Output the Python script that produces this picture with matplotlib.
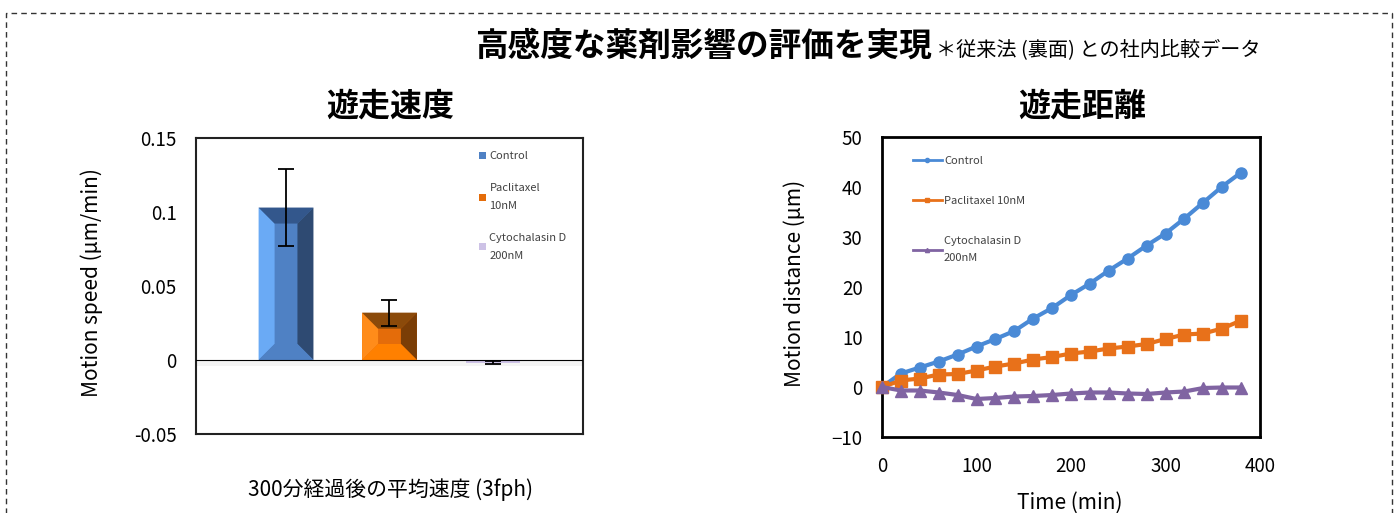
import matplotlib
matplotlib.use('Agg')
import matplotlib.pyplot as plt
from matplotlib.patches import Polygon, Rectangle
from matplotlib.lines import Line2D

plt.rcParams['font.family'] = ['Noto Sans CJK JP', 'DejaVu Sans']

# --- データ ---
bar_labels = ['Control', 'Paclitaxel\n10nM', 'Cytochalasin D\n200nM']
bar_values = [0.103, 0.032, -0.002]
bar_errors = [0.026, 0.0087, 0.001]

time_min = [0, 20, 40, 60, 80, 100, 120, 140, 160, 180, 200,
            220, 240, 260, 280, 300, 320, 340, 360, 380]
control = [0, 2.7, 3.9, 5.1, 6.5, 8.1, 9.6, 11.2, 13.7, 15.8, 18.4,
           20.7, 23.3, 25.7, 28.3, 30.7, 33.7, 36.9, 40.1, 42.9]
paclitaxel = [0, 1.3, 1.7, 2.5, 2.6, 3.3, 4.1, 4.7, 5.5, 6.0, 6.7,
              7.1, 7.7, 8.1, 8.6, 9.6, 10.5, 10.7, 11.7, 13.3]
cytochalasin = [0, -0.7, -0.7, -1.1, -1.6, -2.4, -2.2, -1.9, -1.8, -1.6, -1.3,
                -1.1, -1.1, -1.3, -1.4, -1.1, -0.9, -0.2, -0.1, -0.1]
line_labels = ['Control', 'Paclitaxel 10nM', 'Cytochalasin D\n200nM']

W, H = 1400, 513
fig = plt.figure(figsize=(W / 100, H / 100), dpi=100)

def fx(px):
    return px / W

def fy(py):
    return 1 - py / H

# 点線の枠
fig.patches.append(Rectangle((fx(6), fy(530)), fx(1392) - fx(6), fy(13) - fy(530),
                             transform=fig.transFigure, fill=False, ec='#333333',
                             lw=1, ls=(0, (4, 3))))

# タイトル
fig.text(fx(932), fy(56), '高感度な薬剤影響の評価を実現', ha='right', va='baseline',
         fontsize=23.5, fontweight='bold')
fig.text(fx(936), fy(55), '＊従来法 (裏面) との社内比較データ', ha='left', va='baseline',
         fontsize=14.5)
fig.text(fx(390), fy(107), '遊走速度', ha='center', va='center', fontsize=23, fontweight='bold')
fig.text(fx(1082), fy(107), '遊走距離', ha='center', va='center', fontsize=23, fontweight='bold')

# ---------- 棒グラフ ----------
ax1 = fig.add_axes([fx(196), fy(434), fx(583) - fx(196), fy(138) - fy(434)])
ax1.set_xlim(-0.87, 2.87)
ax1.set_ylim(-0.05, 0.15)
ax1.axhspan(-0.004, 0, color='#f4f4f4', lw=0, zorder=0)

face = ['#4f81c4', '#e46c0a', '#cdc2e6']
bevel = [
    # left, top, right, bottom
    ['#6aaaf5', '#33578c', '#2e4a72', '#4f81c4'],
    ['#ff8c1a', '#8b4a0a', '#7a3d06', '#ff8000'],
    None,
]
bars = ax1.bar(range(3), bar_values, width=0.53, color=face, zorder=2)
fig.canvas.draw()
inv = ax1.transData.inverted()
b = 16  # px
for rect, cols in zip(bars, bevel):
    if cols is None:
        continue
    x0, y0 = ax1.transData.transform((rect.get_x(), rect.get_y()))
    x1, y1 = ax1.transData.transform((rect.get_x() + rect.get_width(),
                                      rect.get_y() + rect.get_height()))
    outer = [(x0, y0), (x0, y1), (x1, y1), (x1, y0)]
    inner = [(x0 + b, y0 + b), (x0 + b, y1 - b), (x1 - b, y1 - b), (x1 - b, y0 + b)]
    faces = [
        [outer[0], outer[1], inner[1], inner[0]],
        [outer[1], outer[2], inner[2], inner[1]],
        [outer[2], outer[3], inner[3], inner[2]],
        [outer[3], outer[0], inner[0], inner[3]],
    ]
    for pts, c in zip(faces, cols):
        ax1.add_patch(Polygon(inv.transform(pts), closed=True, fc=c, ec='none', zorder=3))

ax1.errorbar(range(3), bar_values, yerr=bar_errors, fmt='none', ecolor='black',
             elinewidth=1.3, capsize=6, capthick=1.3, zorder=5)
ax1.axhline(0, color='black', lw=0.8, zorder=4)

ax1.set_xticks([])
ax1.set_yticks([-0.05, 0, 0.05, 0.1, 0.15])
ax1.set_yticklabels(['-0.05', '0', '0.05', '0.1', '0.15'])
ax1.tick_params(axis='y', length=0, pad=14, labelsize=13.5)
for s in ax1.spines.values():
    s.set_color('#222222')
    s.set_linewidth(1.5)

bar_handles = [Rectangle((0, 0), 1, 1, fc=c) for c in face]
leg1 = ax1.legend(bar_handles, bar_labels, loc='upper left', bbox_to_anchor=(0.705, 0.99),
                  frameon=False, fontsize=8, labelcolor='#404040', handlelength=0.6,
                  handleheight=0.6, handletextpad=0.35, labelspacing=2.0)
for t in leg1.get_texts():
    t.set_linespacing(1.95)

fig.text(fx(92), fy(283), 'Motion speed (μm/min)', rotation=90, ha='center', va='center',
         fontsize=15)
fig.text(fx(391), fy(490), '300分経過後の平均速度 (3fph)', ha='center', va='center',
         fontsize=15)

# ---------- 折れ線グラフ ----------
ax2 = fig.add_axes([fx(882), fy(437), fx(1260) - fx(882), fy(137) - fy(437)])
line_colors = ['#4a8ad6', '#e8711a', '#8064a2']
markers = ['o', 's', '^']
for ys, c, m in zip([control, paclitaxel, cytochalasin], line_colors, markers):
    ax2.plot(time_min, ys, color=c, lw=3, marker=m, ms=8, zorder=3, clip_on=False)

ax2.set_xlim(0, 400)
ax2.set_ylim(-10, 50)
ax2.set_xticks([0, 100, 200, 300, 400])
ax2.set_yticks([-10, 0, 10, 20, 30, 40, 50])
ax2.tick_params(length=0, pad=14, labelsize=13.5)
for s in ax2.spines.values():
    s.set_color('black')
    s.set_linewidth(2)

line_handles = [Line2D([], [], color=c, lw=2, marker=m, ms=3)
                for c, m in zip(line_colors, markers)]
leg2 = ax2.legend(line_handles, line_labels, loc='upper left', bbox_to_anchor=(0.055, 0.97),
                  frameon=False, fontsize=8, labelcolor='#404040', handlelength=2.6,
                  handletextpad=0.2, labelspacing=2.7)
for t in leg2.get_texts():
    t.set_linespacing(1.9)

fig.text(fx(795), fy(283), 'Motion distance (μm)', rotation=90, ha='center', va='center',
         fontsize=15)
fig.text(fx(1070), fy(503), 'Time (min)', ha='center', va='center', fontsize=15)

fig.savefig('out.png', dpi=100)
